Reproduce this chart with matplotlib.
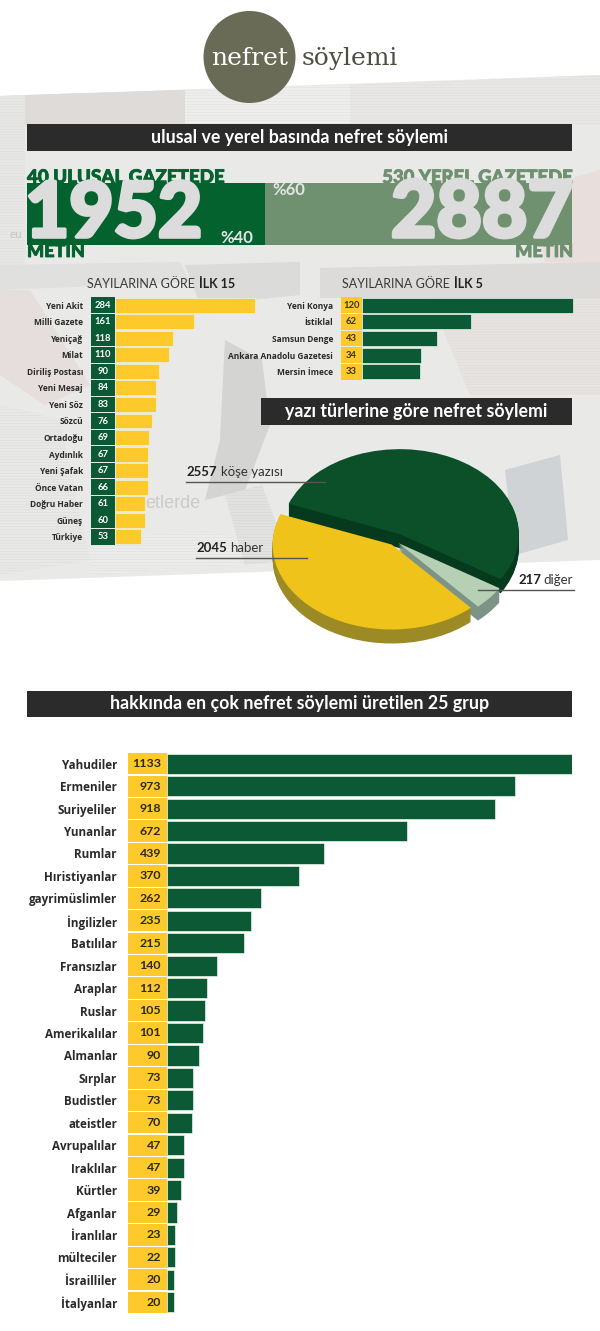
import matplotlib
matplotlib.use('Agg')
import matplotlib.pyplot as plt
import matplotlib.patheffects as pe
from matplotlib.patches import Ellipse, Polygon, Rectangle

plt.rcParams['font.family'] = ['Lato', 'DejaVu Sans']
plt.rcParams['hatch.linewidth'] = 0.3

W, H = 600, 1331

# data
national_total = 1952
local_total = 2887
national_names = ['Yeni Akit', 'Milli Gazete', 'Yeniçağ', 'Milat', 'Diriliş Postası', 'Yeni Mesaj', 'Yeni Söz',
                  'Sözcü', 'Ortadoğu', 'Aydınlık', 'Yeni Şafak', 'Önce Vatan', 'Doğru Haber', 'Güneş', 'Türkiye']
national_values = [284, 161, 118, 110, 90, 84, 83, 76, 69, 67, 67, 66, 61, 60, 53]
local_names = ['Yeni Konya', 'İstiklal', 'Samsun Denge', 'Ankara Anadolu Gazetesi', 'Mersin İmece']
local_values = [120, 62, 43, 34, 33]
type_names = ['köşe yazısı', 'haber', 'diğer']
type_values = [2557, 2045, 217]
group_names = ['Yahudiler', 'Ermeniler', 'Suriyeliler', 'Yunanlar', 'Rumlar', 'Hıristiyanlar', 'gayrimüslimler',
               'İngilizler', 'Batılılar', 'Fransızlar', 'Araplar', 'Ruslar', 'Amerikalılar', 'Almanlar', 'Sırplar',
               'Budistler', 'ateistler', 'Avrupalılar', 'Iraklılar', 'Kürtler', 'Afganlar', 'İranlılar',
               'mülteciler', 'İsrailliler', 'İtalyanlar']
group_values = [1133, 973, 918, 672, 439, 370, 262, 235, 215, 140, 112, 105, 101, 90, 73, 73, 70, 47, 47, 39, 29,
                23, 22, 20, 20]

GREEN = '#0b5a35'
BAND_DARK = '#04622f'
BAND_LIGHT = '#6f9170'
YELLOW = '#fdc92b'
DARK = '#2b2b2b'
TEXT = '#2a2a2a'
NAME_FONT = ['Open Sans', 'DejaVu Sans']


def box_axes(x0, y0, x1, y1):
    # axes placed by pixel box, y measured from the top of the image
    ax = fig.add_axes([x0 / W, 1 - y1 / H, (x1 - x0) / W, (y1 - y0) / H])
    ax.patch.set_alpha(0)
    return ax


def bar_panel(x0, x1, y0, y1, names, values, scale, cell_px, bar_col, cell_col, val_col, fs, name_fs, pad,
              val_px, val_ha):
    # scale is pixels per unit, so the cell in front of zero stays in pixels
    ax = box_axes(x0, y0, x1, y1)
    ypos = list(range(len(values)))
    cell = cell_px / scale
    ax.barh(ypos, values, height=0.9, color=bar_col, edgecolor='#e8f3e6', linewidth=0.5)
    ax.barh(ypos, [cell] * len(values), left=-cell, height=0.95, color=cell_col)
    for i, v in enumerate(values):
        ax.text(val_px / scale, i, str(v), ha=val_ha, va='center', fontsize=fs, color=val_col, fontweight='bold')
    ax.set_xlim(-cell, (x1 - x0 - cell_px) / scale)
    ax.set_ylim(len(values) - 0.5, -0.5)
    ax.set_yticks(ypos)
    ax.set_yticklabels(names, fontsize=name_fs, fontweight='bold', color=TEXT, family=NAME_FONT)
    ax.set_xticks([])
    ax.tick_params(axis='y', length=0, pad=pad)
    for s in ax.spines.values():
        s.set_visible(False)
    return ax


fig = plt.figure(figsize=(W / 100, H / 100), dpi=100, facecolor='white')

# backdrop: washed out newspaper collage
bg = box_axes(0, 0, W, H)
bg.set_xlim(0, W)
bg.set_ylim(H, 0)
bg.axis('off')
bg.add_patch(Polygon([(0, 96), (600, 75), (600, 560), (0, 581)], fc='#e9e9e8', ec='#e9e9e8', lw=0))
for pts, col, line in [
    ([(0, 96), (25, 95), (25, 265), (0, 265)], '#e6e6e5', '#dcdcdb'),
    ([(25, 95), (185, 90), (185, 125), (25, 125)], '#dedbd8', '#dedbd8'),
    ([(185, 90), (350, 85), (350, 125), (185, 125)], '#eeeeed', '#dcdcdb'),
    ([(350, 85), (600, 75), (600, 125), (350, 125)], '#e8e7e6', '#dcdbda'),
    ([(0, 265), (180, 262), (190, 282), (0, 290)], '#e0e0df', '#e0e0df'),
    ([(0, 290), (30, 290), (90, 385), (45, 405), (0, 375)], '#e5dedd', '#e5dedd'),
    ([(0, 405), (60, 420), (90, 560), (0, 575)], '#e8e8e7', '#d9d9d8'),
    ([(90, 540), (210, 530), (300, 560), (90, 575)], '#ececeb', '#d9d9d8'),
    ([(185, 265), (300, 262), (300, 295), (200, 305)], '#dbdbda', '#dbdbda'),
    ([(320, 268), (600, 262), (600, 298), (320, 298)], '#dddbda', '#dddbda'),
    ([(430, 298), (600, 298), (600, 395), (470, 395)], '#e6e3e1', '#dcd9d7'),
    ([(225, 340), (262, 360), (270, 425), (245, 490), (205, 500), (220, 440)], '#d4d4d3', '#d4d4d3'),
    ([(505, 470), (560, 455), (568, 540), (515, 555)], '#cfd3d6', '#cfd3d6'),
    ([(530, 190), (600, 170), (600, 262), (545, 262)], '#e8dfdc', '#e8dfdc'),
    ([(225, 495), (262, 485), (290, 560), (245, 565)], '#e2e2e1', '#d2d2d1'),
]:
    bg.add_patch(Polygon(pts, fc=col, ec=line, hatch='------', lw=0))
bg.text(145, 503, 'etlerde', fontsize=13, color='#cbcbcb', va='center', family='Liberation Sans')
bg.text(10, 235, 'eu', fontsize=8, color='#c4c4c4', va='center', family='Liberation Sans')

# logo
bg.add_patch(Ellipse((249.5, 57), 92, 92, color='#6a6b56', lw=0))

# 40/60 band, each side scaled on its own total
for (x0, x1), total, col in [((27, 265), national_total, BAND_DARK), ((265, 572), local_total, BAND_LIGHT)]:
    band = box_axes(x0, 182.5, x1, 244.5)
    band.barh([0], [total], height=1, color=col)
    band.set_xlim(0, total)
    band.set_ylim(-0.5, 0.5)
    band.axis('off')

# small panels
bar_panel(91, 300, 297, 545, national_names, national_values, 140 / 284, 24, YELLOW, GREEN, 'white',
          6.8, 6.0, 5.8, -12, 'center')
bar_panel(341, 574, 297, 380, local_names, local_values, 211 / 120, 20.5, GREEN, YELLOW, '#3a3320',
          6.8, 6.0, 5.8, -10, 'center')

# pie, layers stacked downward for the fake depth
pie_ax = box_axes(247, 430, 537, 660)
explode = [0.09, 0.05, 0.04]
for d in range(14, 0, -1):
    pie_ax.pie(type_values, colors=['#053a1f', '#9c8a25', '#7c9385'], startangle=-32, explode=explode, radius=1,
               center=(0, -d / 85), wedgeprops={'lw': 0})
pie_ax.pie(type_values, colors=['#0b5029', '#f0c31a', '#b5d0b4'], startangle=-32, explode=explode, radius=1,
           wedgeprops={'lw': 0})
pie_ax.set_aspect('auto')
pie_ax.set_xlim(-148 / 119, 142 / 119)
pie_ax.set_ylim(-119 / 85, 111 / 85)
pie_ax.axis('off')

# 25 groups
bar_panel(128, 572, 752.5, 1313.5, group_names, group_values, 405 / 1133, 39, GREEN, YELLOW, '#2a2a1c',
          8.9, 8.4, 8, -6, 'right')

# overlay: headers and text
top = box_axes(0, 0, W, H)
top.set_xlim(0, W)
top.set_ylim(H, 0)
top.axis('off')

top.text(249.5, 65, 'nefret', fontsize=18, color='white', ha='center', va='baseline', family='DejaVu Serif')
top.text(349.5, 65, 'söylemi', fontsize=18, color='#4d4e42', ha='center', va='baseline', family='DejaVu Serif')

for x0, x1, y0, y1, label in [
    (27, 572, 124, 151, 'ulusal ve yerel basında nefret söylemi'),
    (261, 572, 398, 425, 'yazı türlerine göre nefret söylemi'),
    (27, 572, 691, 717, 'hakkında en çok nefret söylemi üretilen 25 grup'),
]:
    top.add_patch(Rectangle((x0, y0), x1 - x0, y1 - y0, color=DARK, lw=0))
    top.text((x0 + x1) / 2, (y0 + y1) / 2, label, color='white', fontsize=12.8, fontweight='bold', ha='center',
             va='center')

thick = [pe.withStroke(linewidth=2.6, foreground='#dcdcdc')]
top.text(27, 183, '40 ULUSAL GAZETEDE', color=BAND_DARK, fontsize=13.5, fontweight='black', va='baseline',
         path_effects=[pe.withStroke(linewidth=0.6, foreground=BAND_DARK)])
top.text(573, 183, '530 YEREL GAZETEDE', color=BAND_LIGHT, fontsize=13.3, fontweight='black', va='baseline',
         ha='right', path_effects=[pe.withStroke(linewidth=0.6, foreground=BAND_LIGHT)])
top.text(25, 237, str(national_total), color='#dcdcdc', fontsize=55, fontweight='black', va='baseline',
         path_effects=thick)
top.text(573, 237, str(local_total), color='#dcdcdc', fontsize=56.5, fontweight='black', va='baseline', ha='right',
         path_effects=thick)
top.text(272, 195, '%60', color='#e4e4e4', fontsize=12, fontweight='bold', va='baseline')
top.text(220, 243, '%40', color='#e4e4e4', fontsize=12, fontweight='bold', va='baseline')
top.text(27, 257, 'METİN', color=BAND_DARK, fontsize=13, fontweight='black', va='baseline',
         path_effects=[pe.withStroke(linewidth=0.6, foreground=BAND_DARK)])
top.text(573, 257, 'METİN', color=BAND_LIGHT, fontsize=13, fontweight='black', va='baseline', ha='right',
         path_effects=[pe.withStroke(linewidth=0.6, foreground=BAND_LIGHT)])

top.text(87, 284, 'SAYILARINA GÖRE', color='#3a3a3a', fontsize=9, va='center')
top.text(199, 284, 'İLK 15', color='#222222', fontsize=9, fontweight='bold', va='center')
top.text(342, 284, 'SAYILARINA GÖRE', color='#3a3a3a', fontsize=9, va='center')
top.text(454, 284, 'İLK 5', color='#222222', fontsize=9, fontweight='bold', va='center')

# pie labels
for val, name, x, xn, y, x0, x1 in [
    (type_values[0], type_names[0], 186, 221, 472, 186, 325),
    (type_values[1], type_names[1], 196, 230, 548, 196, 307),
    (type_values[2], type_names[2], 518, 543, 580, 478, 574),
]:
    top.text(x, y, str(val), fontsize=9.5, fontweight='bold', color='#222222', va='center')
    top.text(xn, y, name, fontsize=9.5, color='#333333', va='center')
    top.plot([x0, x1], [y + 10, y + 10], color='#555555', lw=1)

fig.savefig('out.png', dpi=100)
